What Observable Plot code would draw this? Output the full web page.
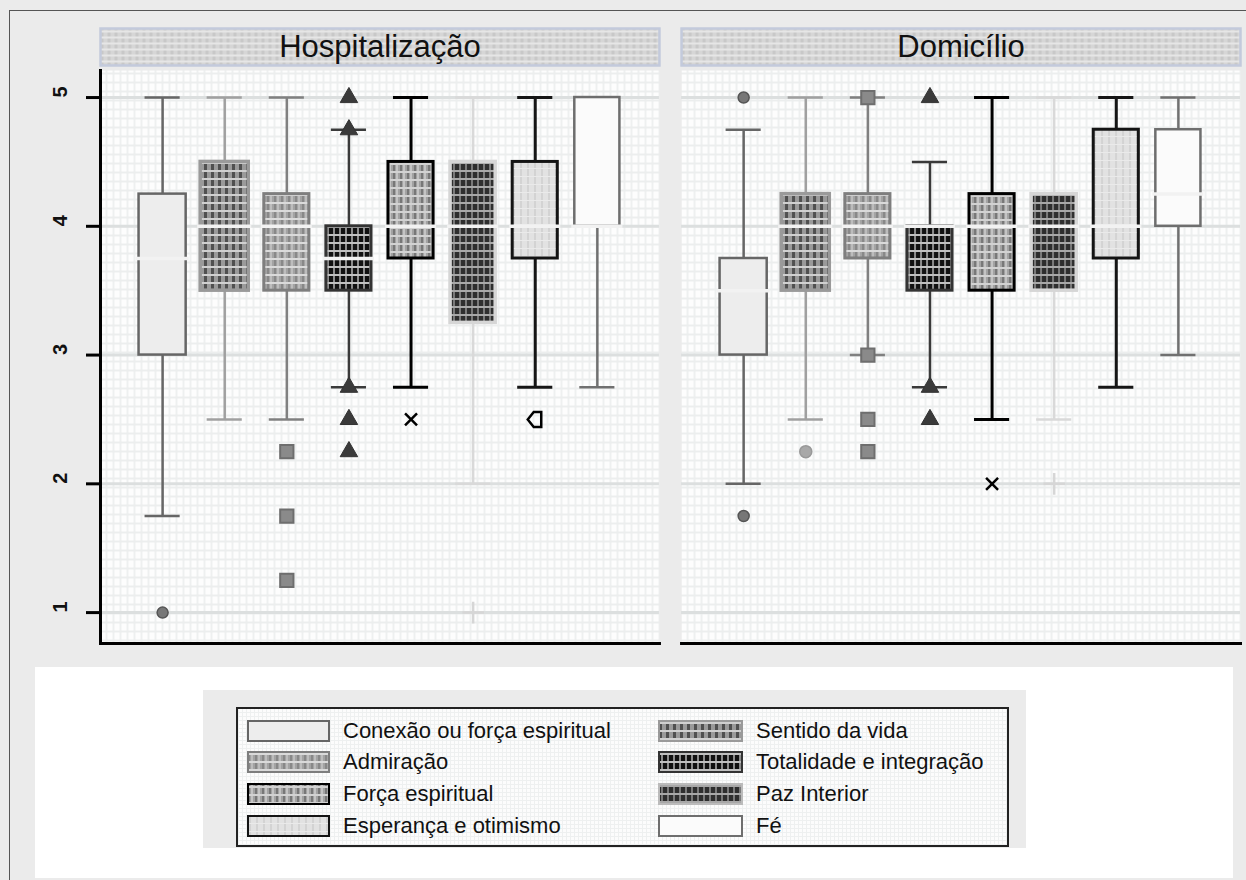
<!DOCTYPE html>
<html>
<head>
<meta charset="utf-8">
<script src="https://cdn.jsdelivr.net/npm/d3@7"></script>
<script src="https://cdn.jsdelivr.net/npm/@observablehq/plot@0.6"></script>
<style>
  html, body { margin: 0; padding: 0; }
  body { width: 1246px; height: 880px; position: relative; overflow: hidden; background: #ebebeb;
         font-family: "Liberation Sans", Arial, Helvetica, sans-serif; }
  #frameLine { position: absolute; left: 9px; top: 10px; width: 1400px; height: 1000px;
               border-left: 1.5px solid #555; border-top: 1.5px solid #555; }
  #chart { position: absolute; left: 0; top: 0; }
  #legendArea { position: absolute; left: 35px; top: 667px; width: 1198px; height: 211px; background: #fff; }
  #legendBg { position: absolute; left: 168px; top: 23px; width: 823px; height: 158px; background: #ebebeb; }
  #legendBox { position: absolute; left: 201px; top: 40px; width: 773px; height: 140px; box-sizing: border-box;
               border: 2px solid #222; background-color: #fcfcfc;
               background-image: repeating-linear-gradient(90deg, #eef0f0 0 1px, transparent 1px 4px),
                                 repeating-linear-gradient(0deg, #eef0f0 0 1px, transparent 1px 4px); }
  .entry { position: absolute; height: 22px; display: flex; align-items: center; }
  .entry svg { flex: none; }
  .entry span { font-size: 22px; color: #111; white-space: nowrap; margin-left: 13px; line-height: 22px; }
</style>
</head>
<body>
<svg width="0" height="0" style="position:absolute">
  <defs>
    <pattern id="bg" width="7" height="9" patternUnits="userSpaceOnUse">
      <rect width="7" height="9" fill="#fdfdfd"/>
      <rect x="0" width="2" height="9" fill="#eef0f0"/>
      <rect y="0" width="7" height="2" fill="#eceeee"/>
    </pattern>
    <pattern id="strip" width="7" height="6" patternUnits="userSpaceOnUse">
      <rect width="7" height="6" fill="#d6d6d6"/>
      <rect x="2" width="3" height="6" fill="#c8c8c8"/>
      <rect y="0" width="7" height="2" fill="#e6e6e6"/>
    </pattern>
    <pattern id="p2" width="7" height="8" patternUnits="userSpaceOnUse">
      <rect width="7" height="8" fill="#9a9a9a"/>
      <rect x="1" width="3" height="8" fill="#505050"/>
      <rect y="2" width="7" height="2" fill="#d0d0d0"/>
    </pattern>
    <pattern id="p3" width="7" height="8" patternUnits="userSpaceOnUse">
      <rect width="7" height="8" fill="#a3a3a3"/>
      <rect x="1" width="2" height="8" fill="#888"/>
      <rect x="4" width="2" height="8" fill="#bdbdbd"/>
      <rect y="2" width="7" height="2" fill="#dadada"/>
    </pattern>
    <pattern id="p4" width="6" height="8" patternUnits="userSpaceOnUse">
      <rect width="6" height="8" fill="#111"/>
      <rect x="3" width="2" height="8" fill="#8c8c8c"/>
      <rect y="2" width="6" height="2" fill="#c0c0c0"/>
    </pattern>
    <pattern id="p5" width="7" height="8" patternUnits="userSpaceOnUse">
      <rect width="7" height="8" fill="#a2a2a2"/>
      <rect x="1" width="2" height="8" fill="#777"/>
      <rect x="4" width="2" height="8" fill="#c4c4c4"/>
      <rect y="3" width="7" height="2" fill="#d2d2d2"/>
    </pattern>
    <pattern id="p6" width="6" height="8" patternUnits="userSpaceOnUse">
      <rect width="6" height="8" fill="#2e2e2e"/>
      <rect x="3" width="2" height="8" fill="#7a7a7a"/>
      <rect y="2" width="6" height="2" fill="#a8a8a8"/>
    </pattern>
    <pattern id="p7" width="7" height="8" patternUnits="userSpaceOnUse">
      <rect width="7" height="8" fill="#e2e2e2"/>
      <rect x="2" width="2" height="8" fill="#d3d3d3"/>
      <rect y="0" width="7" height="1" fill="#eaeaea"/>
    </pattern>
  </defs>
</svg>
<div id="frameLine"></div>
<div id="chart"></div>
<div id="legendArea"><div id="legendBg"></div><div id="legendBox"></div></div>
<script>
// ---------------- data ----------------
const panels = ["Hospitalização", "Domicílio"];
const categories = [
  "Conexão ou força espiritual", "Sentido da vida", "Admiração", "Totalidade e integração",
  "Força espiritual", "Paz Interior", "Esperança e otimismo", "Fé"
];
const yTicks = [1, 2, 3, 4, 5];

// Hospitalização
const hospLow      = [1.75, 2.5, 2.5, 2.75, 2.75, 2.0, 2.75, 2.75];
const hospQ1       = [3.0, 3.5, 3.5, 3.5, 3.75, 3.25, 3.75, 4.0];
const hospMedian   = [3.75, 4.0, 4.0, 3.75, 4.0, 4.0, 4.0, 4.0];
const hospQ3       = [4.25, 4.5, 4.25, 4.0, 4.5, 4.5, 4.5, 5.0];
const hospHigh     = [5, 5, 5, 4.75, 5, 5, 5, 5];
const hospOutliers = [[1.0], [], [2.25, 1.75, 1.25], [5, 4.75, 2.75, 2.5, 2.25], [2.5], [1.0], [2.5], []];

// Domicílio
const domLow      = [2.0, 2.5, 3.0, 2.75, 2.5, 2.5, 2.75, 3.0];
const domQ1       = [3.0, 3.5, 3.75, 3.5, 3.5, 3.5, 3.75, 4.0];
const domMedian   = [3.5, 4.0, 4.0, 4.0, 4.0, 4.0, 4.0, 4.25];
const domQ3       = [3.75, 4.25, 4.25, 4.0, 4.25, 4.25, 4.75, 4.75];
const domHigh     = [4.75, 5, 5, 4.5, 5, 5, 5, 5];
const domOutliers = [[5, 1.75], [2.25], [5, 3.0, 2.5, 2.25], [5, 2.75, 2.5], [2.0], [2.0], [], []];

// ---------------- styles ----------------
const boxFill   = ["#ededed", "url(#p2)", "url(#p3)", "url(#p4)", "url(#p5)", "url(#p6)", "url(#p7)", "#fbfbfb"];
const boxStroke = ["#666", "#9a9a9a", "#7e7e7e", "#333", "#000", "#d6d6d6", "#141414", "#6e6e6e"];
const boxWidth  = [2.5, 3.5, 3, 3, 3, 3.5, 3, 2.5];
const boxInset  = [7.5, 7, 8.5, 8.5, 8.5, 8.5, 8.5, 8.5];
const whiskerStroke = ["#666", "#a0a0a0", "#808080", "#3a3a3a", "#000", "#d9d9d9", "#161616", "#707070"];
const whiskerWidth  = [2.5, 2.5, 2.5, 2.5, 3, 2.5, 3, 2.5];
const houseLeft = {
  draw(ctx, size) {
    const r = Math.sqrt(size / Math.PI);
    ctx.moveTo(-r, 0); ctx.lineTo(-0.2 * r, -r); ctx.lineTo(0.8 * r, -r);
    ctx.lineTo(0.8 * r, r); ctx.lineTo(-0.2 * r, r); ctx.closePath();
  }
};
const outSymbol = ["circle", "circle", "square", "triangle", "times", "plus", houseLeft, "circle"];
const outR      = [5.5, 6, 7.5, 6.5, 5.5, 7, 7.5, 5];
const outFill   = ["#777", "#a8a8a8", "#8a8a8a", "#3a3a3a", "none", "none", "none", "none"];
const outStroke = ["#555", "#999", "#6e6e6e", "#333", "#000", "#d6d6d6", "#000", "#777"];
const outSW     = [1.5, 1.5, 2, 1, 2.5, 2.5, 2.5, 1.5];

// ---------------- tables ----------------
const boxes = [], outliers = [];
panels.forEach((panel, p) => {
  const [lo, q1, med, q3, hi, out] = p === 0
    ? [hospLow, hospQ1, hospMedian, hospQ3, hospHigh, hospOutliers]
    : [domLow, domQ1, domMedian, domQ3, domHigh, domOutliers];
  categories.forEach((cat, i) => {
    boxes.push({panel, cat, lo: lo[i], q1: q1[i], med: med[i], q3: q3[i], hi: hi[i]});
    out[i].forEach(v => outliers.push({panel, cat, v}));
  });
});

const boxMarks = categories.flatMap((cat, i) => {
  const b = boxes.filter(d => d.cat === cat);
  const o = outliers.filter(d => d.cat === cat);
  return [
    Plot.ruleX(b, {fx: "panel", x: "cat", y1: "lo", y2: "hi", stroke: whiskerStroke[i], strokeWidth: whiskerWidth[i]}),
    Plot.tickY(b, {fx: "panel", x: "cat", y: "lo", stroke: whiskerStroke[i], strokeWidth: whiskerWidth[i], insetLeft: 13.5, insetRight: 13.5}),
    Plot.tickY(b, {fx: "panel", x: "cat", y: "hi", stroke: whiskerStroke[i], strokeWidth: whiskerWidth[i], insetLeft: 13.5, insetRight: 13.5}),
    Plot.barY(b, {fx: "panel", x: "cat", y1: "q1", y2: "q3", fill: boxFill[i], stroke: boxStroke[i], strokeWidth: boxWidth[i], insetLeft: boxInset[i], insetRight: boxInset[i]}),
    Plot.tickY(b, {fx: "panel", x: "cat", y: "med", stroke: "#f2f2f2", strokeWidth: 3.5, insetLeft: boxInset[i] - 3, insetRight: boxInset[i] - 3}),
    Plot.dot(o, {fx: "panel", x: "cat", y: "v", symbol: outSymbol[i], r: outR[i], fill: outFill[i], stroke: outStroke[i], strokeWidth: outSW[i]})
  ];
});

const chart = Plot.plot({
  width: 1246,
  height: 660,
  marginTop: 70,
  marginBottom: 17,
  marginLeft: 100,
  marginRight: 6,
  style: {background: "transparent", overflow: "visible", fontFamily: "Liberation Sans, Arial, Helvetica, sans-serif"},
  fx: {domain: panels, paddingInner: 0.038, paddingOuter: 0, round: false, axis: null},
  x: {domain: categories, paddingInner: 0, paddingOuter: 0.5, round: false, axis: null},
  y: {domain: [0.76, 5.21]},
  marks: [
    Plot.frame({fill: "url(#bg)", stroke: null}),
    Plot.gridY(yTicks, {stroke: "#dcdfdf", strokeOpacity: 1, strokeWidth: 3}),
    Plot.frame({insetTop: -42, insetBottom: 578, fill: "url(#strip)", stroke: "#c3cadc", strokeWidth: 2.5}),
    Plot.text(panels, {fx: d => d, text: d => d, frameAnchor: "top", lineAnchor: "middle", dy: -23, fontSize: 31, fill: "#111"}),
    ...boxMarks,
    Plot.axisY(yTicks, {tickSize: 14, tickFormat: () => "", stroke: "#000", strokeWidth: 3}),
    Plot.text(yTicks, {fx: () => panels[0], y: d => d, text: d => String(d), frameAnchor: "left", dx: -40, rotate: -90, fontSize: 20, fontWeight: "bold", fill: "#111"}),
    Plot.frame({anchor: "left", facetAnchor: "left", stroke: "#000", strokeWidth: 3}),
    Plot.frame({anchor: "bottom", stroke: "#000", strokeWidth: 3})
  ]
});
document.getElementById("chart").appendChild(chart);

// ---------------- legend ----------------
const legendBox = document.getElementById("legendBox");
const rowTops = [11, 42, 74, 106];
const colLefts = [9, 420];
categories.forEach((cat, i) => {
  const row = Math.floor(i / 2), col = i % 2;
  const e = document.createElement("div");
  e.className = "entry";
  e.style.left = colLefts[col] + "px";
  e.style.top = rowTops[row] + "px";
  const sw = col === 0 ? 83 : 85;
  e.innerHTML = `<svg width="${sw}" height="22"><rect x="1" y="1" width="${sw - 2}" height="20" fill="${boxFill[i]}" stroke="${boxStroke[i] === "#d6d6d6" ? "#bbb" : boxStroke[i]}" stroke-width="2"/></svg><span>${cat}</span>`;
  legendBox.appendChild(e);
});
</script>
</body>
</html>
